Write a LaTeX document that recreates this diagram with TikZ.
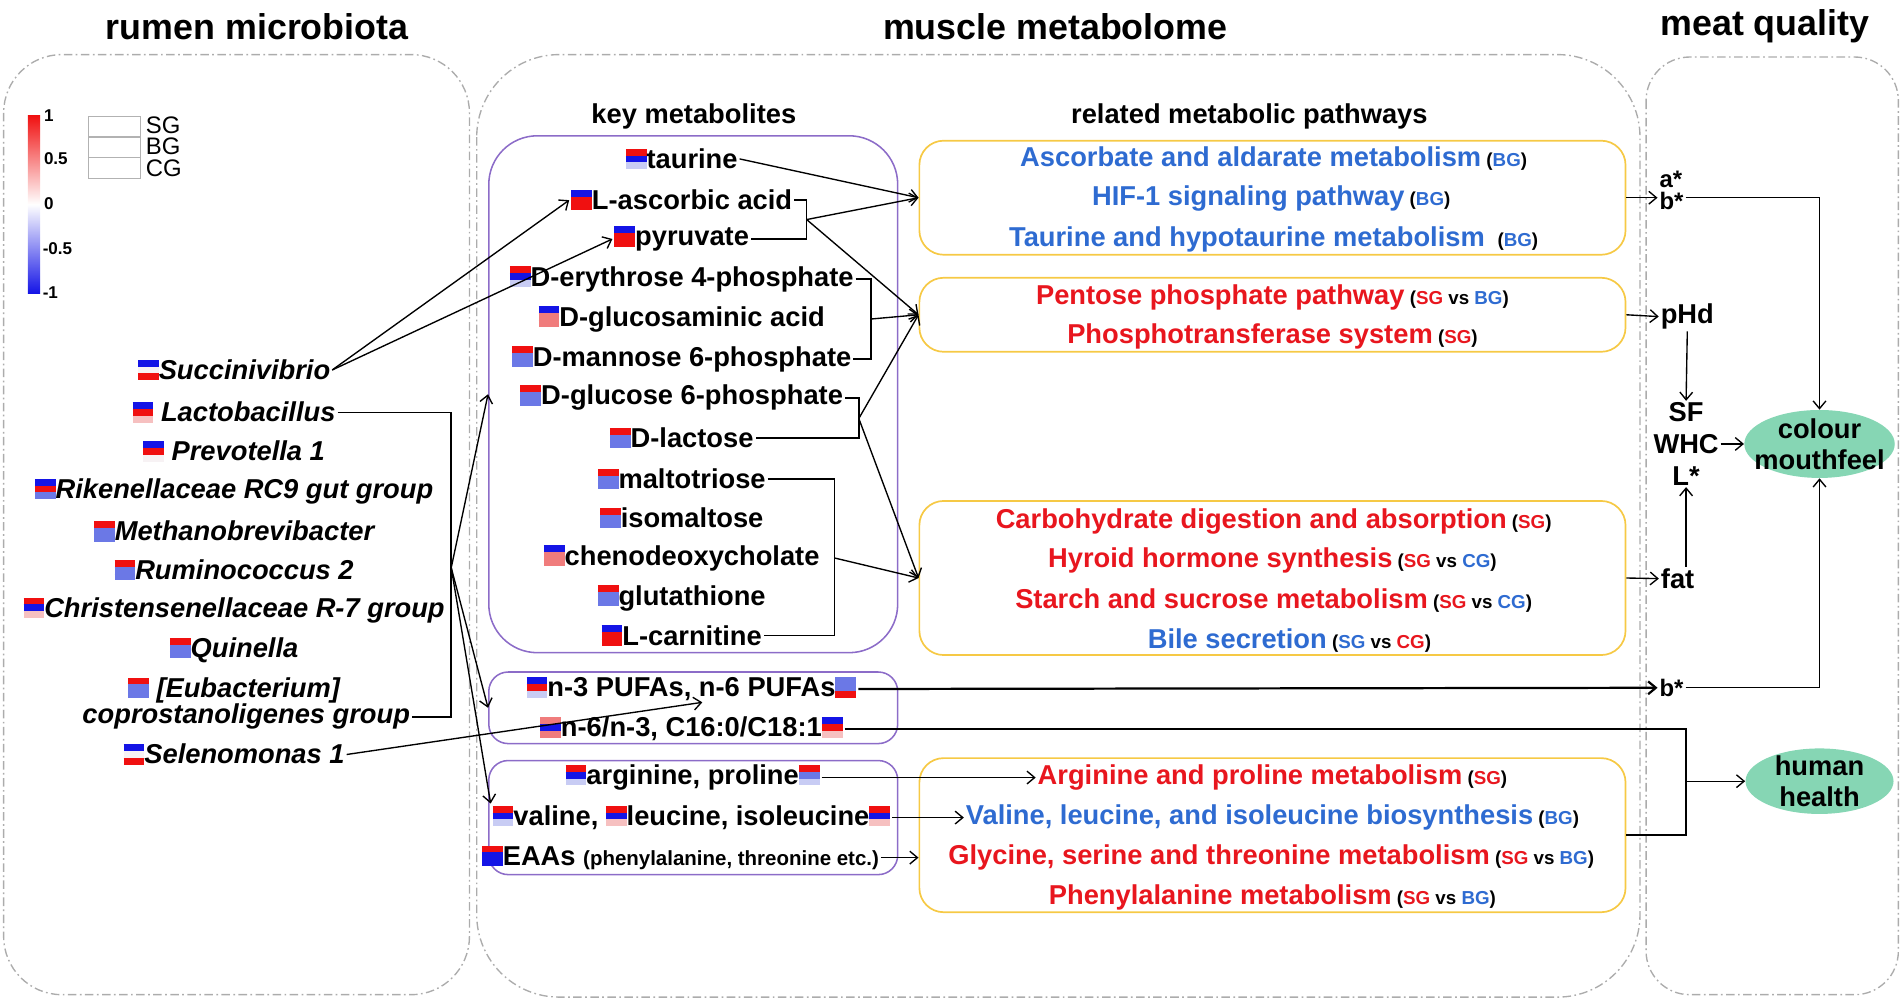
\documentclass[tikz,border=0pt]{standalone}
\usepackage{fontspec}
\setmainfont{Liberation Sans}
\usetikzlibrary{shapes.geometric, arrows.meta}

\definecolor{hR}{HTML}{F01010}
\definecolor{hB}{HTML}{1414E6}
\definecolor{hM}{HTML}{6B78E6}
\definecolor{hL}{HTML}{C8CCF4}
\definecolor{hP}{HTML}{F6C0C0}
\definecolor{hS}{HTML}{F07C7C}
\definecolor{hW}{HTML}{F7F2F4}
\definecolor{pR}{HTML}{E8161E}
\definecolor{pB}{HTML}{2E6BD1}
\definecolor{pPu}{HTML}{8C6CC8}
\definecolor{pY}{HTML}{F6C945}
\definecolor{mint}{HTML}{86D6B4}

% small three-stripe heat map square (SG / BG / CG)
\newcommand{\hm}[3]{\raisebox{-0.03em}{\vbox{\offinterlineskip\hbox{\color{#1}\rule{0.76em}{0.25em}}\hbox{\color{#2}\rule{0.76em}{0.25em}}\hbox{\color{#3}\rule{0.76em}{0.25em}}}}}
\newcommand{\grp}[1]{{\fontsize{11}{13}\selectfont\color{black}\ (#1)}}

\begin{document}
\begin{tikzpicture}[x=0.025cm, y=-0.025cm, >={Straight Barb[length=4.5pt, width=7.5pt]},
	ttl/.style={font=\fontsize{21}{25}\selectfont\bfseries},
	sub/.style={font=\fontsize{16}{19}\selectfont\bfseries},
	mic/.style={font=\fontsize{16}{19}\selectfont\bfseries\itshape, inner sep=1pt},
	met/.style={font=\fontsize{16}{19}\selectfont\bfseries, inner sep=1pt},
	pw/.style={font=\fontsize{16}{19}\selectfont\bfseries, inner sep=1pt},
	qual/.style={font=\fontsize{16}{18}\selectfont\bfseries, inner sep=1pt},
	lgn/.style={font=\fontsize{10}{12}\selectfont\bfseries, inner sep=0pt, anchor=west},
	cbox/.style={draw=gray!65, line width=0.8pt, dash pattern=on 5pt off 2pt on 1pt off 2pt},
	mbox/.style={draw=pPu, line width=0.9pt, minimum width=8.425cm},
	pbox/.style={draw=pY, line width=1pt, rounded corners=0.5cm, minimum width=14.55cm},
	ell/.style={ellipse, fill=mint, minimum width=3.1cm, minimum height=1.4cm, inner sep=0pt},
	etx/.style={font=\fontsize{16}{18}\selectfont\bfseries, align=center, inner sep=0pt},
	arr/.style={->, line width=0.8pt},
	thk/.style={line width=1.3pt}]
	\useasboundingbox (0,0) rectangle (1568,830);

	% titles and frames
	\node[ttl] (tmic) at (212,22) {rumen microbiota};
	\node[ttl] (tmet) at (870,22) {muscle metabolome};
	\node[ttl] (tqua) at (1455,22) {meat quality};
	\draw[cbox, rounded corners=1.2cm] (3,45) rectangle (387,820);
	\draw[cbox, rounded corners=1.7cm] (393,45) rectangle (1352,822);
	\draw[cbox, rounded corners=0.9cm] (1357,47) rectangle (1565,820);

	% legend
	\shade[top color=hR, bottom color=hB, middle color=white] (23,95) rectangle (33,242);
	\node[lgn] (l1) at (36,95) {1};
	\node[lgn] (l2) at (36,131) {0.5};
	\node[lgn] (l3) at (36,168) {0};
	\node[lgn] (l4) at (35,205) {-0.5};
	\node[lgn] (l5) at (35,241) {-1};
	\draw[gray!60, line width=0.7pt] (73,96) rectangle (116,113) (73,113) rectangle (116,130) (73,130) rectangle (116,147);
	\node[font=\fontsize{14}{14}\selectfont, inner sep=0pt, anchor=west] (lsg) at (120,103) {SG};
	\node[font=\fontsize{14}{14}\selectfont, inner sep=0pt, anchor=west] (lbg) at (120,121) {BG};
	\node[font=\fontsize{14}{14}\selectfont, inner sep=0pt, anchor=west] (lcg) at (120,139) {CG};

	% rumen microbiota
	\node[mic] (succ) at (193,305) {\hm{hB}{hW}{hR}Succinivibrio};
	\node[mic] (lact) at (193,340) {\hm{hB}{hR}{hP} Lactobacillus};
	\node[mic] (prev) at (193,372) {\hm{hB}{hR}{hW} Prevotella 1};
	\node[mic] (rike) at (193,405) {\hm{hB}{hR}{hM}Rikenellaceae RC9 gut group};
	\node[mic] (meth) at (193,438) {\hm{hR}{hM}{hM}Methanobrevibacter};
	\node[mic] (rumi) at (193,470) {\hm{hR}{hM}{hM}Ruminococcus 2};
	\node[mic] (chri) at (193,503) {\hm{hR}{hB}{hP}Christensenellaceae R-7 group};
	\node[mic] (quin) at (193,536) {\hm{hR}{hM}{hM}Quinella};
	\node[mic] (euba) at (193,569) {\hm{hR}{hM}{hM} [Eubacterium]};
	\node[mic] (copr) at (203,591) {coprostanoligenes group};
	\node[mic] (sele) at (193,622) {\hm{hB}{hW}{hR}Selenomonas 1};

	% key metabolites
	\node[sub] (tkey) at (572,96) {key metabolites};
	\node[mbox, minimum height=10.65cm, rounded corners=1cm] (kbox) at (571.5,325) {};
	\node[met] (tau) at (562,131) {\hm{hR}{hB}{hL}taurine};
	\node[met] (asc) at (562,165) {\hm{hB}{hR}{hR}L-ascorbic acid};
	\node[met] (pyr) at (562,197) {\hm{hB}{hR}{hR}pyruvate};
	\node[met] (ery) at (562,230) {\hm{hR}{hB}{hL}D-erythrose 4-phosphate};
	\node[met] (gla) at (562,263) {\hm{hB}{hS}{hS}D-glucosaminic acid};
	\node[met] (man) at (562,296) {\hm{hR}{hM}{hM}D-mannose 6-phosphate};
	\node[met] (glc) at (562,328) {\hm{hR}{hM}{hM}D-glucose 6-phosphate};
	\node[met] (lac) at (562,361) {\hm{hR}{hM}{hM}D-lactose};
	\node[met] (mal) at (562,395) {\hm{hR}{hM}{hM}maltotriose};
	\node[met] (iso) at (562,427) {\hm{hR}{hM}{hM}isomaltose};
	\node[met] (che) at (562,460) {\hm{hB}{hS}{hS}chenodeoxycholate};
	\node[met] (glu) at (562,493) {\hm{hR}{hM}{hM}glutathione};
	\node[met] (car) at (562,524) {\hm{hB}{hR}{hR}L-carnitine};

	\node[mbox, minimum height=1.475cm, rounded corners=0.4cm] (fbox) at (571.5,583.5) {};
	\node[met] (pufa) at (570,568) {\hm{hB}{hR}{hL}n-3 PUFAs, n-6 PUFAs\hm{hM}{hM}{hR}};
	\node[met] (rat) at (570,601) {\hm{hS}{hB}{hS}n-6/n-3, C16:0/C18:1\hm{hB}{hR}{hP}};

	\node[mbox, minimum height=2.35cm, rounded corners=0.4cm] (abox) at (571.5,674) {};
	\node[met] (arg) at (571,641) {\hm{hR}{hB}{hL}arginine, proline\hm{hR}{hM}{hL}};
	\node[met] (val) at (570,674) {\hm{hR}{hB}{hL}valine, \hm{hR}{hB}{hP}leucine, isoleucine\hm{hR}{hB}{hP}};
	\node[met] (eaa) at (561,707) {\hm{hR}{hB}{hB}EAAs {\fontsize{12}{14}\selectfont(phenylalanine, threonine etc.)}};

	% related metabolic pathways
	\node[sub] (tpw) at (1030,96) {related metabolic pathways};
	\node[pbox, minimum height=2.35cm] (p1) at (1049,163) {};
	\node[pbox, minimum height=1.525cm] (p2) at (1049,259.5) {};
	\node[pbox, minimum height=3.175cm] (p3) at (1049,476.5) {};
	\node[pbox, minimum height=3.175cm] (p4) at (1049,688.5) {};
	\node[pw, text=pB] (pAsc) at (1050,131) {Ascorbate and aldarate metabolism\grp{\textcolor{pB}{BG}}};
	\node[pw, text=pB] (pHif) at (1048,164) {HIF-1 signaling pathway\grp{\textcolor{pB}{BG}}};
	\node[pw, text=pB] (pTau) at (1050,197) {Taurine and hypotaurine metabolism\ \grp{\textcolor{pB}{BG}}};
	\node[pw, text=pR] (pPen) at (1049,245) {Pentose phosphate pathway\grp{\textcolor{pR}{SG} vs \textcolor{pB}{BG}}};
	\node[pw, text=pR] (pPts) at (1049,277) {Phosphotransferase system\grp{\textcolor{pR}{SG}}};
	\node[pw, text=pR] (pCar) at (1050,430) {Carbohydrate digestion and absorption\grp{\textcolor{pR}{SG}}};
	\node[pw, text=pR] (pHyr) at (1049,462) {Hyroid hormone synthesis\grp{\textcolor{pR}{SG} vs \textcolor{pB}{CG}}};
	\node[pw, text=pR] (pSta) at (1050,495) {Starch and sucrose metabolism\grp{\textcolor{pR}{SG} vs \textcolor{pB}{CG}}};
	\node[pw, text=pB] (pBil) at (1063,528) {Bile secretion\grp{\textcolor{pB}{SG} vs \textcolor{pR}{CG}}};
	\node[pw, text=pR] (pArg) at (1049,641) {Arginine and proline metabolism\grp{\textcolor{pR}{SG}}};
	\node[pw, text=pB] (pVal) at (1049,674) {Valine, leucine, and isoleucine biosynthesis\grp{\textcolor{pB}{BG}}};
	\node[pw, text=pR] (pGly) at (1048,707) {Glycine, serine and threonine metabolism\grp{\textcolor{pR}{SG} vs \textcolor{pB}{BG}}};
	\node[pw, text=pR] (pPhe) at (1049,740) {Phenylalanine metabolism\grp{\textcolor{pR}{SG} vs \textcolor{pB}{BG}}};

	% meat quality
	\node[qual, align=left, font=\fontsize{14}{13}\selectfont\bfseries] (ab) at (1378,157) {a*\\b*};
	\node[qual] (phd) at (1391,261) {pHd};
	\node[qual, align=center, font=\fontsize{16}{18.5}\selectfont\bfseries] (sfw) at (1390,366) {SF\\WHC\\L*};
	\node[qual] (fat) at (1383,477) {fat};
	\node[qual, font=\fontsize{14}{16}\selectfont\bfseries] (bst) at (1378,567) {b*};
	\node[ell] (col) at (1500,366) {};
	\node[etx] (colt) at (col) {colour\\mouthfeel};
	\node[ell, minimum width=3.05cm, minimum height=1.35cm] (hh) at (1500,644) {};
	\node[etx] (hht) at (hh) {human\\health};

	% microbiota -> metabolites
	\draw[arr] (succ.east) -- (asc.west);
	\draw[arr] (succ.east) -- (pyr.west);
	\coordinate (brk) at (372,468);
	\draw[line width=1pt] (lact.east) -| (brk) |- (copr.east);
	\draw[arr] (brk) -- (kbox.west);
	\draw[arr] (brk) -- (fbox.west);
	\draw[arr] (brk) -- (val.north west);
	\coordinate (selt) at (579,579);
	\draw[arr] (sele.east) -- (selt);

	% metabolites -> pathways
	\coordinate (b1) at (665,181);
	\coordinate (b2) at (718,263);
	\coordinate (b3) at (708,345);
	\coordinate (b4) at (688,460);
	\draw[line width=0.8pt] (asc.east) -| (b1) |- (pyr.east);
	\draw[line width=0.8pt] (ery.east) -| (b2) |- (man.east);
	\draw[line width=0.8pt] (glc.east) -| (b3) |- (lac.east);
	\draw[line width=0.8pt] (mal.east) -| (b4) |- (car.east);
	\draw[arr] (tau.east) -- (p1.west);
	\draw[arr] (b1) -- (p1.west);
	\draw[arr] (b1) -- (p2.west);
	\draw[arr] (b2) -- (p2.west);
	\draw[arr] (b3) -- (p2.west);
	\draw[arr] (b3) -- (p3.west);
	\draw[arr] (b4) -- (p3.west);
	\draw[arr] (arg.east) -- (pArg.west);
	\draw[arr] (val.east) -- (pVal.west);
	\draw[arr] (eaa.east) -- (eaa.east -| p4.west);

	% pathways -> meat quality
	\draw[arr] (p1.east) -- (p1.east -| ab.west);
	\draw[arr] (p1.east -| ab.east) -| (col.north);
	\draw[arr] (p2.east) -- (phd.west);
	\draw[arr] (phd.south) -- (sfw.north);
	\draw[arr] (sfw.east) -- (col.west);
	\draw[arr] (p3.east) -- (fat.west);
	\draw[arr] (fat.north -| sfw.south) -- (sfw.south);
	\draw[arr, thk] (pufa.east) -- (bst.west);
	\draw[arr] (bst.east) -| (col.south);
	\coordinate (jn) at (1390,644);
	\draw[thk] (rat.east) -| (jn |- p4.east) -- (p4.east);
	\draw[arr] (jn) -- (hh.west);
\end{tikzpicture}
\end{document}
